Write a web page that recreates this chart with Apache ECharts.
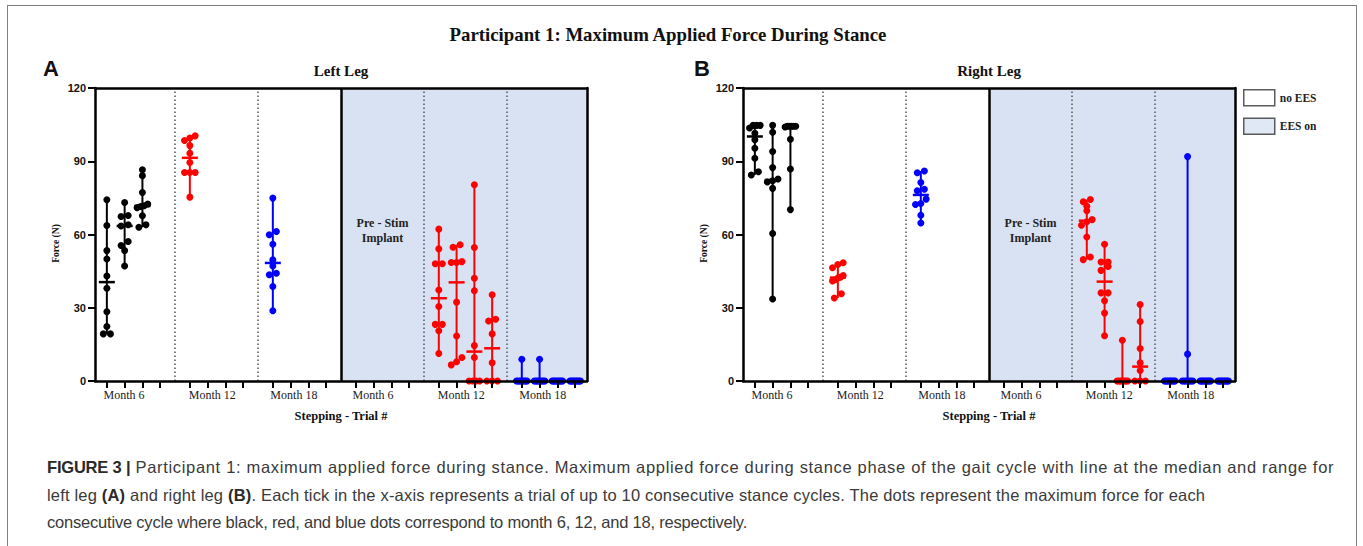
<!DOCTYPE html>
<html><head><meta charset="utf-8">
<script src="https://cdn.jsdelivr.net/npm/echarts@6/dist/echarts.min.js"></script>
<style>
html,body{margin:0;padding:0;background:#fff;}
#wrap{position:relative;width:1363px;height:546px;overflow:hidden;}
#chart{position:absolute;left:0;top:0;width:1363px;height:546px;}
#frame{position:absolute;left:7px;top:5px;width:1350px;height:600px;border:1.5px solid #808080;border-bottom:none;box-sizing:border-box;}
#cap{position:absolute;left:47px;top:454px;font-family:'Liberation Sans',Arial,sans-serif;font-size:16.5px;line-height:27.5px;color:#3a3a3a;white-space:nowrap;}
#cap div{height:27.5px;}
#cap .l1{letter-spacing:0.67px;}
#cap .l2{letter-spacing:0.18px;}
#cap .l3{letter-spacing:-0.2px;}
#cap b{color:#2a2a2a;}
#cap .l1 b{letter-spacing:-0.2px;}
</style></head>
<body><div id="wrap"><div id="frame"></div><div id="chart"></div>
<div id="cap"><div class="l1"><b>FIGURE 3 |</b> Participant 1: maximum applied force during stance. Maximum applied force during stance phase of the gait cycle with line at the median and range for</div><div class="l2">left leg <b>(A)</b> and right leg <b>(B)</b>. Each tick in the x-axis represents a trial of up to 10 consecutive stance cycles. The dots represent the maximum force for each</div><div class="l3">consecutive cycle where black, red, and blue dots correspond to month 6, 12, and 18, respectively.</div></div>
</div>
<script>
// ---------- DATA ----------
const groupLabels = ['Month 6', 'Month 12', 'Month 18', 'Month 6', 'Month 12', 'Month 18'];
const yTicks = [0, 30, 60, 90, 120];
const monthColors = ['#000000', '#ff0000', '#0000ff'];
const legendNames = ['no EES', 'EES on'];

// Left leg (each inner array = one trial, 4 trials per session)
const leftMonth6 = [
  [74.2, 63.7, 53.4, 50.0, 43.0, 38.0, 28.4, 22.3, 19.3, 19.3],
  [73.1, 67.8, 67.4, 64.0, 63.5, 57.1, 55.5, 53.4, 47.1],
  [86.5, 84.1, 77.2, 72.5, 71.8, 71.5, 71.0, 67.7, 64.0, 63.0],
  []
];
const leftMonth12 = [[100.4, 99.5, 98.5, 96.4, 93.3, 89.5, 85.4, 85.4, 85.4, 75.3], [], [], []];
const leftMonth18 = [[74.9, 61.2, 59.9, 56.0, 49.6, 47.1, 44.1, 43.5, 38.7, 28.8], [], [], []];
const leftEesMonth6 = [[], [], [], []];
const leftEesMonth12 = [
  [62.2, 54.1, 48.0, 48.0, 37.3, 30.5, 23.2, 23.2, 20.6, 11.3],
  [55.8, 54.8, 48.9, 48.5, 48.5, 32.3, 18.4, 9.6, 7.9, 6.6],
  [80.4, 54.7, 42.1, 37.0, 14.5, 9.6, 0, 0, 0, 0],
  [35.3, 25.3, 24.6, 19.3, 7.5, 0, 0, 0]
];
const leftEesMonth18 = [
  [8.9, 0, 0, 0, 0, 0, 0, 0, 0, 0],
  [8.9, 0, 0, 0, 0, 0, 0, 0, 0, 0],
  [0, 0, 0, 0, 0, 0, 0, 0, 0, 0],
  [0, 0, 0, 0, 0, 0, 0, 0, 0, 0]
];

// Right leg
const rightMonth6 = [
  [104.7, 104.7, 104.7, 103.6, 101.5, 98.8, 95.3, 91.2, 85.7, 84.4],
  [104.7, 101.9, 94.0, 87.4, 82.7, 82.0, 81.5, 78.9, 60.4, 33.6],
  [104.3, 104.3, 104.3, 104.3, 104.3, 104.0, 99.0, 86.8, 70.2],
  []
];
const rightMonth12 = [[48.4, 47.7, 46.4, 43.2, 42.5, 42.2, 41.5, 41.0, 35.7, 34.0], [], [], []];
const rightMonth18 = [[86.0, 85.3, 81.3, 78.5, 77.9, 74.5, 72.7, 72.3, 67.9, 64.7], [], [], []];
const rightEesMonth6 = [[], [], [], []];
const rightEesMonth12 = [
  [74.3, 73.4, 71.6, 69.7, 66.1, 65.2, 63.8, 59.0, 50.8, 49.7],
  [56.0, 48.7, 48.7, 46.9, 45.3, 36.1, 36.1, 32.9, 27.8, 18.5],
  [16.7, 0, 0, 0, 0, 0, 0, 0, 0],
  [31.3, 24.4, 13.3, 7.5, 4.3, 0, 0, 0]
];
const rightEesMonth18 = [
  [0, 0, 0, 0, 0, 0, 0, 0, 0, 0],
  [91.9, 11.0, 0, 0, 0, 0, 0, 0, 0, 0],
  [0, 0, 0, 0, 0, 0, 0, 0, 0, 0],
  [0, 0, 0, 0, 0, 0, 0, 0, 0, 0]
];

// ---------- LAYOUT (axis units: one trial tick = 3 units, one session = 14 units) ----------
const GROUP = 14, STEP = 3, X_MIN = -2, X_MAX = 81;
const labelShift = [2.9, 3.8, 3.55];
const EES_START_GROUP = 3;

const tickVals = [], labelVals = [];
groupLabels.forEach((l, g) => {
  for (let j = 0; j < 4; j++) tickVals.push(g * GROUP + j * STEP);
  labelVals.push(g * GROUP + labelShift[g % 3]);
});
const dividerVals = [];
for (let g = 0; g < groupLabels.length - 1; g++) dividerVals.push(g * GROUP + 3 * STEP + (GROUP - 3 * STEP) / 2);
const eesStart = dividerVals[EES_START_GROUP - 1];

function median(a) {
  const s = a.slice().sort((p, q) => p - q), n = s.length;
  return n % 2 ? s[(n - 1) / 2] : (s[n / 2 - 1] + s[n / 2]) / 2;
}
function spread(vals) {
  const idx = vals.map((v, i) => i).sort((a, b) => vals[a] - vals[b]);
  const off = new Array(vals.length).fill(0);
  let start = 0;
  for (let i = 1; i <= idx.length; i++) {
    if (i === idx.length || vals[idx[i]] - vals[idx[i - 1]] >= 1.8) {
      const n = i - start;
      if (n > 1) {
        const step = Math.min(1.2, 1.8 / (n - 1));
        for (let k = 0; k < n; k++) off[idx[start + k]] = (k - (n - 1) / 2) * step;
      }
      start = i;
    }
  }
  return off;
}

const SERIF = '"Liberation Serif", "Times New Roman", serif';
const SANS = '"Liberation Sans", Arial, sans-serif';

function buildLeg(groups, gi) {
  const xa = gi * 2, ya = gi * 2;
  const scatterData = [[], [], []];
  const rangeData = [];
  groups.forEach((trials, g) => {
    const c = g % 3;
    trials.forEach((vals, j) => {
      if (!vals.length) return;
      const x = g * GROUP + j * STEP;
      const offs = spread(vals);
      vals.forEach((v, k) => scatterData[c].push([x + offs[k], v]));
      rangeData.push([x, Math.min(...vals), Math.max(...vals), median(vals), c]);
    });
  });
  const series = [];
  series.push({
    type: 'scatter', xAxisIndex: xa, yAxisIndex: ya, data: [], z: 1, silent: true,
    markArea: {
      silent: true,
      itemStyle: { color: '#d9e2f3', opacity: 1 },
      data: [[{ xAxis: eesStart, yAxis: 0 }, { xAxis: X_MAX, yAxis: 120 }]]
    }
  });
  series.push({
    type: 'scatter', xAxisIndex: xa, yAxisIndex: ya, data: [], z: 1.5, silent: true,
    markLine: {
      silent: true, symbol: 'none', label: { show: false },
      data: dividerVals.map((v, i) => ({
        xAxis: v,
        lineStyle: i === EES_START_GROUP - 1
          ? { color: '#000', width: 2.5, type: 'solid' }
          : { color: '#555', width: 1.5, type: [1.5, 2.5] }
      }))
    },
    markPoint: {
      silent: true, symbol: 'circle', symbolSize: 1, itemStyle: { color: 'rgba(0,0,0,0)' },
      data: [{
        coord: [EES_START_GROUP * GROUP + 1.5 * STEP, 61.5],
        label: {
          show: true, position: 'inside', formatter: 'Pre - Stim\nImplant', align: 'center',
          fontFamily: SERIF, fontWeight: 'bold', fontSize: 12, lineHeight: 15, color: '#222'
        }
      }]
    }
  });
  series.push({
    type: 'custom', xAxisIndex: xa, yAxisIndex: ya, z: 3, clip: false, silent: true,
    data: rangeData, encode: { x: 0, y: [1, 2, 3] },
    renderItem: (params, api) => {
      const x = api.value(0);
      const lo = api.coord([x, api.value(1)]);
      const hi = api.coord([x, api.value(2)]);
      const md = api.coord([x, api.value(3)]);
      const col = monthColors[api.value(4)];
      return {
        type: 'group', children: [
          { type: 'line', shape: { x1: lo[0], y1: lo[1], x2: hi[0], y2: hi[1] }, style: { stroke: col, lineWidth: 2 } },
          { type: 'line', shape: { x1: md[0] - 8, y1: md[1], x2: md[0] + 8, y2: md[1] }, style: { stroke: col, lineWidth: 2.5 } }
        ]
      };
    }
  });
  scatterData.forEach((d, c) => {
    series.push({
      type: 'scatter', xAxisIndex: xa, yAxisIndex: ya, z: 4, silent: true,
      symbol: 'circle', symbolSize: 7, itemStyle: { color: monthColors[c], opacity: 1 },
      data: d
    });
  });
  return series;
}

function xAxes(gi) {
  return [{
    type: 'value', gridIndex: gi, min: X_MIN, max: X_MAX, position: 'bottom', z: 6,
    axisLine: { show: true, onZero: false, lineStyle: { color: '#000', width: 2.5 } },
    axisTick: { show: true, customValues: tickVals, length: 7, lineStyle: { color: '#000', width: 2 } },
    axisLabel: {
      show: true, customValues: labelVals, margin: 8,
      formatter: (v) => { const i = labelVals.findIndex(p => Math.abs(p - v) < 0.01); return i >= 0 ? groupLabels[i] : ''; },
      fontFamily: SERIF, fontSize: 12, color: '#222'
    },
    splitLine: { show: false },
    name: 'Stepping - Trial #', nameLocation: 'middle', nameGap: 28,
    nameTextStyle: { fontFamily: SERIF, fontWeight: 'bold', fontSize: 12.5, color: '#111' }
  }, {
    type: 'value', gridIndex: gi, min: X_MIN, max: X_MAX, position: 'top', z: 6,
    axisLine: { show: true, onZero: false, lineStyle: { color: '#000', width: 2.5 } },
    axisTick: { show: false }, axisLabel: { show: false }, splitLine: { show: false }
  }];
}
function yAxes(gi) {
  return [{
    type: 'value', gridIndex: gi, min: yTicks[0], max: yTicks[yTicks.length - 1], interval: yTicks[1] - yTicks[0], z: 6,
    position: 'left',
    axisLine: { show: true, onZero: false, lineStyle: { color: '#000', width: 2.5 } },
    axisTick: { show: true, length: 7, lineStyle: { color: '#000', width: 2 } },
    axisLabel: { fontFamily: SANS, fontWeight: 'bold', fontSize: 11, color: '#111', margin: 9 },
    splitLine: { show: false },
    name: 'Force (N)', nameLocation: 'middle', nameRotate: 90, nameGap: 34,
    nameTextStyle: { fontFamily: SERIF, fontWeight: 'bold', fontSize: 9.5, color: '#111', padding: [0, 18, 0, 0] }
  }, {
    type: 'value', gridIndex: gi, min: yTicks[0], max: yTicks[yTicks.length - 1], position: 'right', z: 6,
    axisLine: { show: true, onZero: false, lineStyle: { color: '#000', width: 2.5 } },
    axisTick: { show: false }, axisLabel: { show: false }, splitLine: { show: false }
  }];
}

const leftGroups = [leftMonth6, leftMonth12, leftMonth18, leftEesMonth6, leftEesMonth12, leftEesMonth18];
const rightGroups = [rightMonth6, rightMonth12, rightMonth18, rightEesMonth6, rightEesMonth12, rightEesMonth18];

const chart = echarts.init(document.getElementById('chart'), null, { renderer: 'svg' });
const textStyleBase = { fill: '#111', align: 'center', verticalAlign: 'middle' };
chart.setOption({
  animation: false,
  backgroundColor: 'transparent',
  grid: [
    { left: 95, top: 88, width: 492, height: 293 },
    { left: 743, top: 88, width: 492, height: 293 }
  ],
  xAxis: [...xAxes(0), ...xAxes(1)],
  yAxis: [...yAxes(0), ...yAxes(1)],
  legend: {
    orient: 'vertical', left: 1243, top: 89, itemWidth: 31, itemHeight: 16, itemGap: 11,
    selectedMode: false, icon: 'rect', padding: 0,
    textStyle: { fontFamily: SERIF, fontWeight: 'bold', fontSize: 11.5, color: '#222' },
    data: [
      { name: legendNames[0], itemStyle: { color: '#ffffff', borderColor: '#333', borderWidth: 1.5 } },
      { name: legendNames[1], itemStyle: { color: '#d9e2f3', borderColor: '#333', borderWidth: 1.5 } }
    ]
  },
  graphic: [
    { type: 'text', x: 668, y: 34, style: Object.assign({ text: 'Participant 1: Maximum Applied Force During Stance', fontFamily: SERIF, fontWeight: 'bold', fontSize: 18.8 }, textStyleBase) },
    { type: 'text', x: 341, y: 71, style: Object.assign({ text: 'Left Leg', fontFamily: SERIF, fontWeight: 'bold', fontSize: 15 }, textStyleBase) },
    { type: 'text', x: 989, y: 71, style: Object.assign({ text: 'Right Leg', fontFamily: SERIF, fontWeight: 'bold', fontSize: 15 }, textStyleBase) },
    { type: 'text', x: 51, y: 68, style: Object.assign({ text: 'A', fontFamily: SANS, fontWeight: 'bold', fontSize: 22 }, textStyleBase) },
    { type: 'text', x: 702, y: 68, style: Object.assign({ text: 'B', fontFamily: SANS, fontWeight: 'bold', fontSize: 22 }, textStyleBase) }
  ],
  series: [
    { type: 'scatter', name: legendNames[0], xAxisIndex: 0, yAxisIndex: 0, data: [] },
    { type: 'scatter', name: legendNames[1], xAxisIndex: 0, yAxisIndex: 0, data: [] },
    ...buildLeg(leftGroups, 0),
    ...buildLeg(rightGroups, 1)
  ]
});
</script>
</body></html>
